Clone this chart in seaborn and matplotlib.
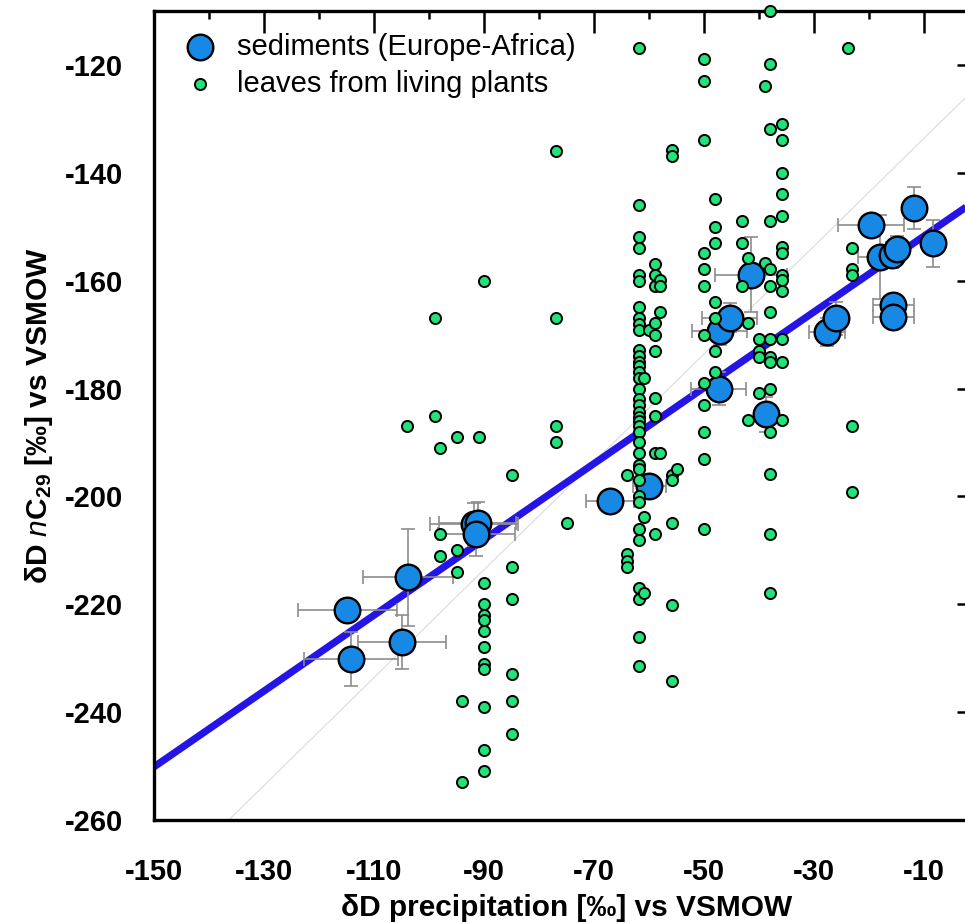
import numpy as np
import pandas as pd
import matplotlib
matplotlib.use("Agg")
import matplotlib.pyplot as plt
import seaborn as sns

# ---------------- data ----------------
# sediments (Europe-Africa): dD precipitation, dD nC29, and uncertainties
sed_x = [-114.9, -114.2, -104.9, -103.8, -91.8, -91.1, -91.4, -67.1, -60.0, -47.3,
         -38.7, -47.1, -45.3, -41.5, -27.6, -26.0, -19.6, -18.0, -15.8, -14.9,
         -15.6, -15.6, -11.8, -8.4]
sed_y = [-221.1, -230.2, -227.0, -215.0, -205.2, -205.0, -207.0, -200.9, -198.0, -180.0,
         -184.8, -169.3, -166.9, -158.9, -169.6, -167.0, -149.6, -155.6, -155.2, -154.1,
         -164.6, -166.7, -146.5, -153.1]
sed_xerr = [9.0, 8.5, 8.0, 8.2, 8.0, 7.0, 7.0, 4.4, 3.0, 5.0,
            1.0, 5.0, 5.0, 6.5, 3.3, 1.5, 6.0, 4.0, 2.0, 2.0,
            3.7, 3.7, 1.0, 1.0]
sed_yerr = [2.0, 5.0, 5.0, 9.0, 4.0, 4.0, 4.0, 1.0, 1.5, 3.0,
            3.3, 2.7, 2.7, 7.0, 2.6, 3.0, 1.0, 7.8, 2.4, 2.4,
            1.3, 1.3, 3.9, 4.4]

# leaves from living plants
leaf_x = [-104.0,
          -98.9, -98.9, -98.0, -98.0, -98.0,
          -94.9, -94.9, -94.9, -94.0, -94.0,
          -90.9,
          -90.0, -90.0, -90.0, -90.0, -90.0, -90.0, -90.0, -90.0, -90.0, -90.0, -90.0, -90.0,
          -84.9, -84.9, -84.9, -84.9, -84.9, -84.9,
          -76.9, -76.9, -76.9, -76.9,
          -74.9,
          -64.0, -64.0, -64.0, -64.0,
          -61.8, -61.8, -61.8, -61.8, -61.8, -61.8, -61.8, -61.8, -61.8, -61.8,
          -61.8, -61.8, -61.8, -61.8, -61.8, -61.8, -61.8, -61.8, -61.8, -61.8,
          -61.8, -61.8, -61.8, -61.8, -61.8, -61.8, -61.8, -61.8, -61.8, -61.8,
          -61.8, -61.8, -61.8, -61.8, -61.8, -61.8, -61.8,
          -60.9, -60.9, -60.9,
          -60.0,
          -58.9, -58.9, -58.9, -58.9, -58.9, -58.9, -58.9, -58.9, -58.9, -58.9,
          -58.0, -58.0, -58.0, -58.0,
          -55.8, -55.8, -55.8, -55.8, -55.8, -55.8, -55.8, -54.9,
          -50.0, -50.0, -50.0, -50.0, -50.0, -50.0, -50.0, -50.0, -50.0, -50.0, -50.0, -50.0,
          -48.0, -48.0, -48.0, -48.0, -48.0, -48.0, -48.0,
          -43.1, -43.1, -43.1,
          -42.0, -42.0, -42.0,
          -40.0, -40.0, -40.0, -40.0,
          -38.9, -38.9,
          -38.0, -38.0, -38.0, -38.0, -38.0, -38.0, -38.0, -38.0, -38.0, -38.0,
          -38.0, -38.0, -38.0, -38.0, -38.0,
          -35.8, -35.8, -35.8, -35.8, -35.8, -35.8, -35.8, -35.8, -35.8, -35.8,
          -35.8, -35.8, -35.8,
          -23.8, -23.1, -23.1, -23.1, -23.1, -23.1]
leaf_y = [-187.0,
          -167.0, -185.0, -191.0, -207.0, -211.0,
          -189.0, -210.0, -214.0, -238.0, -253.0,
          -189.0,
          -160.0, -216.0, -220.0, -222.0, -223.0, -225.0, -228.0, -231.0, -232.0, -239.0, -247.0, -251.0,
          -196.0, -213.0, -219.0, -233.0, -238.0, -244.0,
          -136.0, -167.0, -187.0, -190.0,
          -205.0,
          -196.0, -210.7, -212.0, -213.1,
          -116.9, -145.9, -151.9, -153.9, -158.9, -160.0, -164.8, -166.9, -168.1, -169.1,
          -172.8, -173.9, -175.0, -175.9, -176.9, -178.0, -180.0, -182.0, -183.0, -184.3,
          -185.2, -186.1, -187.0, -188.0, -190.0, -192.0, -194.1, -195.0, -196.9, -200.0,
          -201.1, -206.1, -208.1, -216.9, -219.1, -226.1, -231.5,
          -178.0, -203.9, -218.0,
          -169.1,
          -156.9, -158.9, -160.9, -167.8, -170.0, -173.0, -181.7, -185.0, -192.0, -206.9,
          -159.8, -160.9, -165.9, -192.0,
          -135.7, -136.9, -196.1, -197.0, -205.0, -220.2, -234.3, -195.0,
          -118.9, -123.0, -133.9, -154.8, -157.8, -160.9, -170.0, -178.9, -183.1, -188.0, -193.1, -206.1,
          -144.8, -150.0, -153.0, -163.9, -166.9, -173.0, -176.9,
          -148.9, -153.0, -160.9,
          -155.8, -167.8, -185.9,
          -170.9, -173.0, -174.1, -180.9,
          -123.9, -156.7,
          -110.0, -119.8, -131.9, -148.9, -157.8, -160.9, -165.9, -170.9, -174.1, -175.0,
          -180.0, -188.1, -195.9, -207.0, -218.0,
          -130.9, -133.9, -140.0, -143.9, -148.0, -153.7, -154.8, -158.9, -159.8, -162.0,
          -170.9, -175.0, -185.9,
          -116.9, -153.9, -157.8, -158.9, -187.0, -199.1]

# regression line and 1:1 reference line
reg_slope, reg_intercept = 0.703, -144.7
ref_offset = -123.6

x_ticks = [-150, -130, -110, -90, -70, -50, -30, -10]
x_minor = [-140, -120, -100, -80, -60, -40, -20, 0]
y_ticks = [-260, -240, -220, -200, -180, -160, -140, -120]
y_minor = [-250, -230, -210, -190, -170, -150, -130, -110]

# ---------------- style ----------------
sns.set_style("white")
plt.rcParams['font.family'] = ['Liberation Sans', 'DejaVu Sans']
plt.rcParams['axes.unicode_minus'] = False
plt.rcParams['text.color'] = 'black'
plt.rcParams['axes.labelcolor'] = 'black'
plt.rcParams['xtick.color'] = 'black'
plt.rcParams['ytick.color'] = 'black'
plt.rcParams['mathtext.fontset'] = 'custom'
plt.rcParams['mathtext.rm'] = 'Liberation Sans:bold'
plt.rcParams['mathtext.it'] = 'Liberation Sans:italic'
plt.rcParams['mathtext.bf'] = 'Liberation Sans:bold'

fig = plt.figure(figsize=(9.65, 9.23), dpi=100)
ax = fig.add_axes([154 / 965, 103 / 923, 825 / 965, 809 / 923])

xlim = (-150, 0)
ylim = (-260, -110)
xl = np.array(xlim, dtype=float)

ax.plot(xl, xl + ref_offset, color='#dcdcdc', lw=0.8, zorder=1)
ax.plot(xl, reg_slope * xl + reg_intercept, color='#2414E6', lw=5.2,
        zorder=2, solid_capstyle='butt')

ax.errorbar(sed_x, sed_y, xerr=sed_xerr, yerr=sed_yerr, fmt='none',
            ecolor='#8c8c8c', elinewidth=1.2, capsize=5, capthick=1.2, zorder=3)

sed = pd.DataFrame({'x': sed_x, 'y': sed_y})
leaf = pd.DataFrame({'x': leaf_x, 'y': leaf_y})
sns.scatterplot(data=sed, x='x', y='y', s=340, color='#1888E5', edgecolor='black',
                linewidth=1.7, zorder=4, ax=ax, label='sediments (Europe-Africa)')
sns.scatterplot(data=leaf, x='x', y='y', s=64, color='#22E27A', edgecolor='black',
                linewidth=1.4, zorder=5, ax=ax, label='leaves from living plants',
                clip_on=False)

ax.set_xlim(*xlim)
ax.set_ylim(*ylim)

ax.set_xticks(x_ticks)
ax.set_xticklabels([str(v) for v in x_ticks])
ax.set_xticks(x_minor, minor=True)
ax.set_yticks(y_ticks)
ax.set_yticklabels([str(v) for v in y_ticks])
ax.set_yticks(y_minor, minor=True)

ax.tick_params(which='both', direction='in', top=True, right=True, color='black',
               labelcolor='black')
ax.tick_params(which='major', length=16, width=1.8, labelsize=21)
ax.tick_params(which='minor', length=6, width=1.8)
ax.tick_params(axis='x', which='major', pad=27)
ax.tick_params(axis='y', which='major', pad=22)
for lbl in ax.get_xticklabels() + ax.get_yticklabels():
    lbl.set_fontweight('bold')

for sp in ax.spines.values():
    sp.set_linewidth(2.4)
    sp.set_color('black')
    sp.set_visible(True)

ax.set_xlabel("δD precipitation [‰] vs VSMOW", fontsize=21.5, fontweight='bold',
              labelpad=6, color='black')
ax.set_ylabel(r"δD $\mathit{n}\mathrm{C}_{29}$ [‰] vs VSMOW", fontsize=21.5,
              fontweight='bold', labelpad=7, color='black')

ax.legend(loc='upper left', bbox_to_anchor=(0.0239, 0.9876), frameon=False,
          fontsize=21, handlelength=1.0, handletextpad=0.77, labelspacing=0.32,
          borderpad=0.4, borderaxespad=0, scatterpoints=1)

fig.savefig('out.png', dpi=100)
